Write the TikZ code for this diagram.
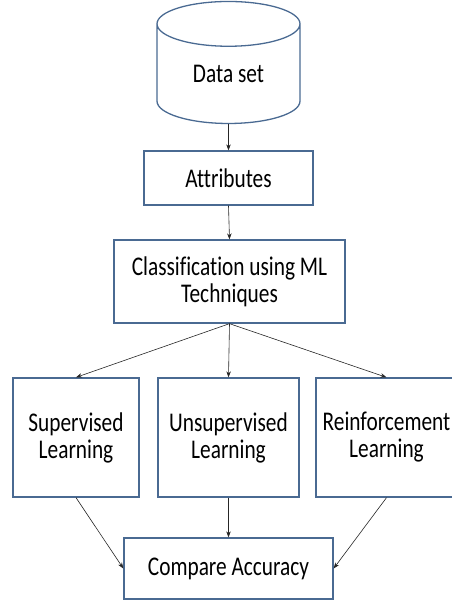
\documentclass[tikz,border=0pt]{standalone}
\usepackage{fontspec}
\setmainfont{Carlito}[FakeStretch=0.79,Ligatures=NoCommon]
\usetikzlibrary{shapes.geometric,arrows.meta,positioning}

\definecolor{boxline}{HTML}{4A6A92}

\begin{document}
\begin{tikzpicture}[x=1pt,y=-1pt,
    txt/.style={font=\fontsize{27}{27}\selectfont,align=center,text=black},
    stepbox/.style={txt,draw=boxline,line width=1.3pt,inner sep=0pt},
    link/.style={-{Stealth[length=6pt,width=4.5pt]},line width=0.6pt,color=black!85}]
\useasboundingbox (0,0) rectangle (451,600);

\node[txt,draw=boxline,line width=1.3pt,cylinder,shape border rotate=90,aspect=0.63,
      minimum height=122pt,minimum width=143pt,inner sep=0pt] (data) at (228.5,74) {Data set};

\node[stepbox,minimum width=169pt,minimum height=54pt] (attr) at (228.5,178) {Attributes};
\node[stepbox,minimum width=231pt,minimum height=83pt] (class) at (229.5,281.5) {Classification using ML\\Techniques};

\node[stepbox,minimum width=126pt,minimum height=119pt] (sup) at (76,437.5) {Supervised\\Learning};
\node[stepbox,minimum width=141pt,minimum height=119pt] (unsup) at (228.5,437.5) {Unsupervised\\Learning};
\node[stepbox,minimum width=141pt,minimum height=119pt] (reinf) at (386.5,437.5) {Reinforcement\\Learning};

\node[stepbox,minimum width=209pt,minimum height=61pt] (acc) at (228.5,568.5) {Compare Accuracy};

\path[link]
    (data.bottom) edge (attr.north)
    (attr.south) edge (class.north)
    (class.south) edge (sup.north)
    (class.south) edge (unsup.north)
    (class.south) edge (reinf.north)
    (sup.south) edge (acc.west)
    (unsup.south) edge (acc.north)
    (reinf.south) edge (acc.east);
\end{tikzpicture}
\end{document}
